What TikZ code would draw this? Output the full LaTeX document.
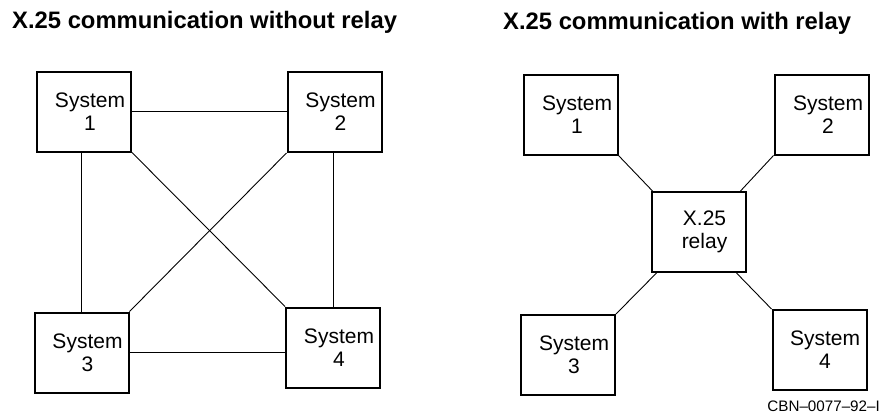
\documentclass[tikz,border=0pt]{standalone}
\usepackage{fontspec}
\setmainfont{Liberation Sans}
\usepackage{tikz}
\usetikzlibrary{positioning,calc}
\tikzset{
	sysbox/.style = {
			draw,
			line width      = 2pt,
			minimum width   = 94pt,
			minimum height  = 80pt,
			inner sep       = 0pt,
		},
	systext/.style = {
			align           = center,
			inner sep       = 0pt,
			font            = \fontsize{21}{23}\selectfont,
		},
	title/.style = {
			anchor          = base west,
			inner sep       = 0pt,
			font            = \fontsize{23.8}{26}\selectfont\bfseries,
		},
	link/.style = {draw, line width=0.9pt},
}

\begin{document}
\begin{tikzpicture}[x=1pt,y=-1pt]
	% Fix the bounding box
	\useasboundingbox (0,0) rectangle (885,413);

	% Titles
	\node[title] (tleft) at (12,28) {X.25 communication without relay};
	\node[title] (tright) at (503,29.5) {X.25 communication with relay};

	% Without relay: every system linked to every other
	\node[sysbox] (l1) at (84,111.5) {};
	\node[sysbox] (l2) at (334.5,112) {};
	\node[sysbox] (l3) at (81.5,352.5) {};
	\node[sysbox] (l4) at (333,347.5) {};
	\node[systext] (l1t) at ([xshift=6pt]l1.center) {System\\1};
	\node[systext] (l2t) at ([xshift=6pt]l2.center) {System\\2};
	\node[systext] (l3t) at ([xshift=6pt]l3.center) {System\\3};
	\node[systext] (l4t) at ([xshift=6pt]l4.center) {System\\4};

	\draw[link] (l1.east) -- (l1.east -| l2.west);
	\draw[link] (l1.south -| l3.north) -- (l3.north);
	\draw[link] (l2.south -| l4.north) -- (l4.north);
	\draw[link] (l3.east) -- (l3.east -| l4.west);
	\draw[link] (l1.south east) -- (l4.north west);
	\draw[link] (l2.south west) -- (l3.north east);

	% With relay: every system linked to the relay only
	\node[sysbox] (r1) at (570.5,114.5) {};
	\node[sysbox] (r2) at (821.5,114.5) {};
	\node[sysbox] (relay) at (698.5,232) {};
	\node[sysbox] (r3) at (568,355) {};
	\node[sysbox] (r4) at (819.5,350) {};
	\node[systext] (r1t) at ([xshift=6.5pt]r1.center) {System\\1};
	\node[systext] (r2t) at ([xshift=6.5pt]r2.center) {System\\2};
	\node[systext] (relayt) at ([xshift=6pt]relay.center) {X.25\\relay};
	\node[systext] (r3t) at ([xshift=6pt]r3.center) {System\\3};
	\node[systext] (r4t) at ([xshift=5.5pt]r4.center) {System\\4};

	\draw[link] (r1.south east) -- ([xshift=2pt]relay.north west);
	\draw[link] (r2.south west) -- ([xshift=-6pt]relay.north east);
	\draw[link] ([xshift=6pt]relay.south west) -- (r3.north east);
	\draw[link] ([xshift=-10pt]relay.south east) -- (r4.north west);

	% Figure number
	\node[anchor=base east, inner sep=0pt, font=\fontsize{15.2}{17}\selectfont] (figno) at (880,411) {CBN–0077–92–I};
\end{tikzpicture}
\end{document}
